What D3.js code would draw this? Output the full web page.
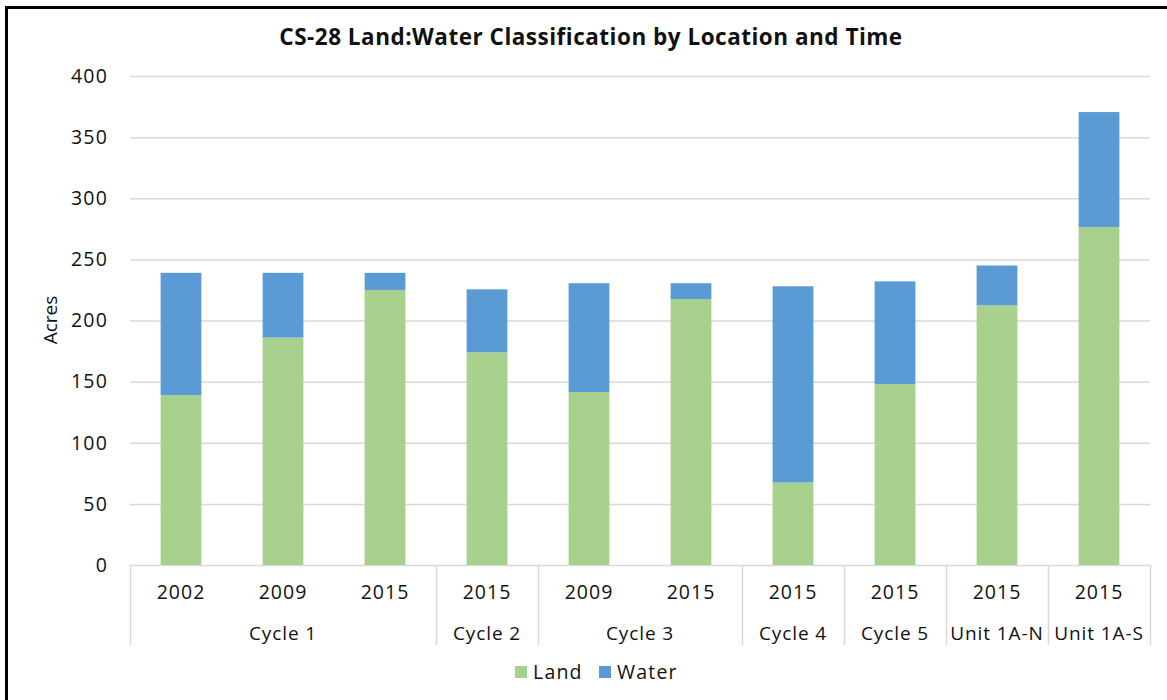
<!DOCTYPE html>
<html>
<head>
<meta charset="utf-8">
<script src="https://cdn.jsdelivr.net/npm/d3@7"></script>
<style>
  body { margin: 0; background: #fff; }
  svg { display: block; font-family: "Open Sans", Lato, sans-serif; }
</style>
</head>
<body>
<svg id="chart" width="1167" height="700"></svg>
<script>
// chart data
const years = ["2002", "2009", "2015", "2015", "2009", "2015", "2015", "2015", "2015", "2015"];
const groups = ["Cycle 1", "Cycle 1", "Cycle 1", "Cycle 2", "Cycle 3", "Cycle 3", "Cycle 4", "Cycle 5", "Unit 1A-N", "Unit 1A-S"];
const land = [139, 186, 225, 174, 141.5, 217.5, 67.5, 148, 212.5, 276.5];
const water = [100, 53, 14, 51.5, 89, 13, 160.5, 84, 32.5, 94];
const yTicks = [0, 50, 100, 150, 200, 250, 300, 350, 400];
const seriesNames = ["Land", "Water"];
const seriesColors = ["#A9D18E", "#5B9BD5"];

const svg = d3.select("#chart");
const plotLeft = 130, plotRight = 1150, plotTop = 76, plotBottom = 565;
const fontFam = "'Open Sans', Lato, sans-serif";

const x = d3.scaleBand().domain(d3.range(years.length)).range([plotLeft, plotRight]).paddingInner(0.6).paddingOuter(0.3);
const step = (plotRight - plotLeft) / years.length;
const y = d3.scaleLinear().domain([0, 400]).range([plotBottom, plotTop]);

// frame (only left and top edges show in the picture)
svg.append("rect")
  .attr("x", 6.5).attr("y", 7.5)
  .attr("width", 1200).attr("height", 760)
  .attr("fill", "none").attr("stroke", "#000").attr("stroke-width", 3);

// title
svg.append("text")
  .attr("x", 591).attr("y", 45)
  .attr("text-anchor", "middle")
  .attr("font-weight", "bold").attr("font-size", 22.5)
  .attr("letter-spacing", 0.5)
  .attr("fill", "#111")
  .text("CS-28 Land:Water Classification by Location and Time");

// gridlines
svg.append("g").selectAll("line").data(yTicks).join("line")
  .attr("x1", plotLeft).attr("x2", plotRight)
  .attr("y1", d => y(d) + 0.5).attr("y2", d => y(d) + 0.5)
  .attr("stroke", "#D9D9D9").attr("stroke-width", 1.5);

// y axis labels
const yAxis = svg.append("g")
  .attr("transform", `translate(${plotLeft},0)`)
  .call(d3.axisLeft(y).tickValues(yTicks).tickSize(0).tickPadding(22));
yAxis.select(".domain").remove();
yAxis.selectAll("text").attr("font-size", 19.5).attr("letter-spacing", 1.2)
  .attr("fill", "#111").attr("font-family", fontFam);

svg.append("text")
  .attr("transform", "translate(57,320) rotate(-90)")
  .attr("text-anchor", "middle")
  .attr("font-size", 19).attr("fill", "#111")
  .text("Acres");

// stacked bars
const stackData = years.map((yr, i) => ({ i: i, Land: land[i], Water: water[i] }));
const stacked = d3.stack().keys(seriesNames)(stackData);
svg.append("g").selectAll("g").data(stacked).join("g")
  .attr("fill", (d, k) => seriesColors[k])
  .selectAll("rect").data(d => d).join("rect")
  .attr("x", d => x(d.data.i))
  .attr("width", x.bandwidth())
  .attr("y", d => y(d[1]))
  .attr("height", d => y(d[0]) - y(d[1]));

// category axis: year labels
svg.append("g").selectAll("text").data(years).join("text")
  .attr("x", (d, i) => plotLeft + step * (i + 0.5))
  .attr("y", 599)
  .attr("text-anchor", "middle")
  .attr("font-size", 19.5).attr("letter-spacing", 1)
  .attr("fill", "#111")
  .text(d => d);

// group spans
const spans = [];
groups.forEach((g, i) => {
  if (i === 0 || groups[i - 1] !== g) spans.push({ name: g, start: i, end: i + 1 });
  else spans[spans.length - 1].end = i + 1;
});
const bounds = [0].concat(spans.map(s => s.end));
svg.append("g").selectAll("line").data(bounds).join("line")
  .attr("x1", d => plotLeft + step * d + 0.5).attr("x2", d => plotLeft + step * d + 0.5)
  .attr("y1", plotBottom).attr("y2", 645)
  .attr("stroke", "#D9D9D9").attr("stroke-width", 1.5);

svg.append("g").selectAll("text").data(spans).join("text")
  .attr("x", d => plotLeft + step * (d.start + d.end) / 2)
  .attr("y", 640)
  .attr("text-anchor", "middle")
  .attr("font-size", 19).attr("letter-spacing", 0.9)
  .attr("fill", "#111")
  .text(d => d.name);

// legend
const legend = svg.append("g").attr("transform", "translate(515,666)");
const lx = [0, 84];
legend.selectAll("rect").data(seriesNames).join("rect")
  .attr("x", (d, k) => lx[k]).attr("y", 0)
  .attr("width", 12).attr("height", 12)
  .attr("fill", (d, k) => seriesColors[k]);
legend.selectAll("text").data(seriesNames).join("text")
  .attr("x", (d, k) => lx[k] + 18).attr("y", 13)
  .attr("font-size", 19.5).attr("letter-spacing", 1.2)
  .attr("fill", "#111")
  .text(d => d);
</script>
</body>
</html>
